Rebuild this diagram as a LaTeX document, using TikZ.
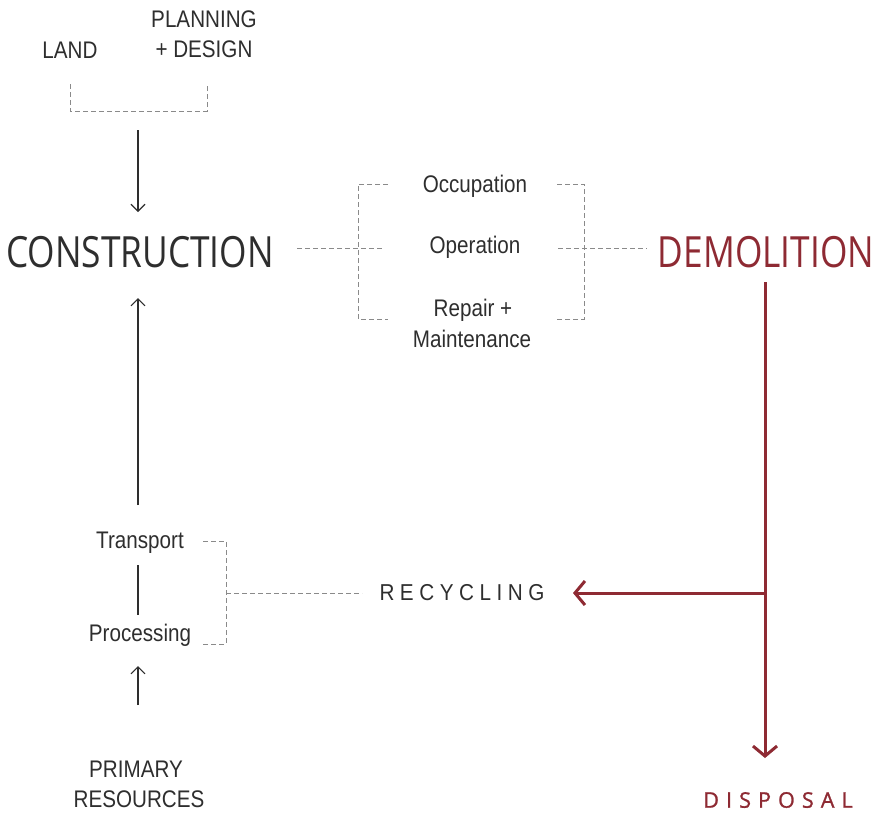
\documentclass[tikz,border=0pt]{standalone}
\usepackage{fontspec}
\setmainfont[FakeStretch=0.86]{Liberation Sans}
\newfontfamily\bigfont[FakeStretch=0.82]{Open Sans}
\newfontfamily\spacedfont[FakeStretch=0.9,LetterSpace=24]{Liberation Sans}
\newfontfamily\redspaced[LetterSpace=33,FakeBold=1.2]{Open Sans}
\usetikzlibrary{arrows.meta}
\definecolor{demred}{HTML}{8E2A33}
\definecolor{txt}{HTML}{2E2E2E}
\definecolor{dashgray}{HTML}{8A8A8A}
\tikzset{
  lbl/.style={inner sep=0pt, text=txt, font=\fontsize{24}{28}\selectfont, align=center},
  big/.style={inner sep=0pt, font=\bigfont\fontsize{43}{48}\selectfont},
  dashline/.style={draw=dashgray, line width=0.9pt, dash pattern=on 5pt off 3pt},
  blackarrow/.style={draw=txt, line width=1.1pt, -{Straight Barb[length=7pt,width=14pt,line width=1.1pt]}},
  redarrow/.style={draw=demred, line width=3pt, -{Straight Barb[length=10pt,width=24pt,line width=3pt]}},
}
\begin{document}
\begin{tikzpicture}[x=1pt,y=-1pt]
\useasboundingbox (0,0) rectangle (875,817);
% top labels
\node[lbl] (land) at (70,50) {LAND};
\node[lbl] (plan) at (204,19) {PLANNING};
\node[lbl] (design) at (204,49) {+ DESIGN};
\coordinate (bl) at (70,84);
\coordinate (br) at (207,84);
\draw[dashline] (bl) -- (70,111) -- (207,111) -- (br);
\coordinate (topA) at (138,130);
% construction
\node[big, text=txt] (cons) at (140,252) {CONSTRUCTION};
\draw[blackarrow] (topA) -- (138,212);
% middle bracket
\node[lbl] (occ) at (475,186) {Occupation};
\node[lbl] (oper) at (475,247) {Operation};
\node[lbl] (rep) at (473,310) {Repair +};
\node[lbl] (maint) at (472,339) {Maintenance};
\draw[dashline] (297,248) -- (382,248);
\draw[dashline] (388,184) -- (358,184) -- (358,319) -- (388,319);
\draw[dashline] (557,184) -- (584,184) -- (584,319) -- (557,319);
\draw[dashline] (558,248) -- (647,248);
% demolition
\node[big, text=demred] (demo) at (766,252) {DEMOLITION};
\coordinate (dtop) at (765,282);
\coordinate (split) at (765,593);
\node[inner sep=0pt, text=demred, font=\redspaced\fontsize{21.5}{24}\selectfont] (disp) at (778,800) {DISPOSAL};
\node[inner sep=0pt, text=txt, font=\spacedfont\fontsize{23}{26}\selectfont] (recy) at (462,593) {RECYCLING};
\draw[draw=demred, line width=3pt] (dtop) -- (split);
\draw[redarrow] (split) -- (765,758);
\draw[redarrow] (split) -- (573,593);
% left column
\node[lbl] (trans) at (140,543) {Transport};
\node[lbl] (proc) at (140,635) {Processing};
\node[lbl] (prim) at (136,769) {PRIMARY};
\node[lbl] (res) at (139,799) {RESOURCES};
\draw[blackarrow] (138,505) -- (138,298);
\draw[draw=txt, line width=1.1pt] (138,565) -- (138,615);
\draw[blackarrow] (138,705) -- (138,666);
\draw[dashline] (203,541) -- (226,541) -- (226,644) -- (203,644);
\draw[dashline] (226,593) -- (362,593);
\end{tikzpicture}
\end{document}
